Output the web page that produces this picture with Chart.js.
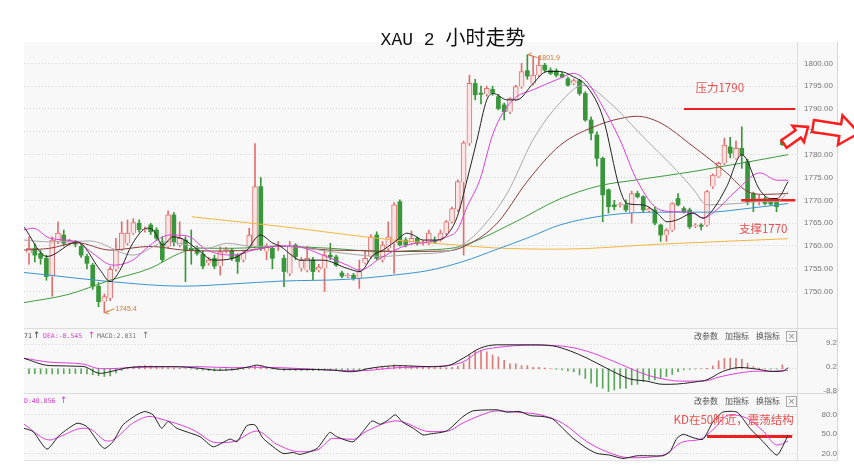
<!DOCTYPE html>
<html>
<head>
<meta charset="utf-8">
<script src="https://cdn.jsdelivr.net/npm/chart.js@4.4.0/dist/chart.umd.min.js"></script>
<style>
body{margin:0;background:#fff;width:854px;height:474px;overflow:hidden;position:relative;font-family:"Liberation Sans",sans-serif;}
#title{position:absolute;left:328px;top:26px;width:250px;text-align:center;font:20px/24px "Liberation Serif","Noto Sans CJK SC",serif;color:#111;white-space:pre;z-index:5;}
#title .lat{font:18px/24px "Liberation Mono",monospace;}
#frame{position:absolute;left:24px;top:42px;width:813px;height:418px;background:#f8f8f8;border-right:1px solid #d6d6d6;border-bottom:1px solid #e2e2e2;}
.vline{position:absolute;left:797px;top:42px;width:1px;height:419px;background:#dcdcdc;}
.hline{position:absolute;left:24px;width:813px;height:1px;background:#dcdcdc;}
canvas{position:absolute;left:0;}
.hd{position:absolute;font:6.5px/8px "DejaVu Sans Mono",monospace;white-space:nowrap;}
.ar{position:absolute;font:9px/9px "DejaVu Sans",sans-serif;white-space:nowrap;}
.tool{position:absolute;font:8px/10px "Noto Sans CJK SC",sans-serif;color:#555;white-space:nowrap;}
.xbox{position:absolute;width:9px;height:9px;border:1px solid #aaa;font:9px/9px "DejaVu Sans",sans-serif;color:#888;text-align:center;}
</style>
</head>
<body>
<div id="frame"></div>
<div class="vline"></div>
<div class="hline" style="top:328px"></div>
<div class="hline" style="top:393px"></div>
<canvas id="cMain" width="854" height="349" style="top:11px"></canvas>
<canvas id="cMacd" width="854" height="129" style="top:296px"></canvas>
<canvas id="cKd" width="854" height="132" style="top:361px"></canvas>
<div id="title"><span class="lat">XAU 2 </span>小时走势</div>

<span class="hd" style="left:24px;top:332px;color:#444">71</span>
<span class="ar" style="left:33px;top:331px;color:#444">↑</span>
<span class="hd" style="left:43px;top:332px;color:#d63bd6">DEA:-0.545</span>
<span class="ar" style="left:88px;top:331px;color:#d63bd6">↑</span>
<span class="hd" style="left:97px;top:332px;color:#777">MACD:2.031</span>
<span class="ar" style="left:142px;top:331px;color:#777">↑</span>
<span class="hd" style="left:24px;top:397px;color:#d63bd6">D:40.856</span>
<span class="ar" style="left:60px;top:396px;color:#d63bd6">↑</span>

<span class="tool" style="left:694px;top:331px">改参数</span>
<span class="tool" style="left:725px;top:331px">加指标</span>
<span class="tool" style="left:756px;top:331px">换指标</span>
<span class="xbox" style="left:786px;top:331px">×</span>
<span class="tool" style="left:694px;top:396px">改参数</span>
<span class="tool" style="left:725px;top:396px">加指标</span>
<span class="tool" style="left:756px;top:396px">换指标</span>
<span class="xbox" style="left:786px;top:396px">×</span>

<script>
'use strict';
// ============================================================
// DATA (index = 2h bar number)
// ============================================================
var opens  = [1758.4,1759.5,1758.4,1757.3,1753.3,1761.0,1762.4,1760.7,1760.6,1759.9,1757.7,1755.8,1751.2,1747.8,1748.6,1754.9,1759.3,1760.6,1762.8,1765.0,
              1763.5,1764.6,1763.5,1760.9,1759.9,1766.8,1760.2,1761.3,1759.5,1759.2,1758.2,1756.2,1757.3,1755.6,1758.8,1759.1,1758.0,1757.0,1759.9,1759.9,
              1773.0,1758.8,1759.5,1759.8,1757.3,1754.0,1760.2,1755.1,1754.7,1756.9,1754.8,1755.1,1758.0,1757.6,1754.1,1753.3,1753.6,1752.9,1756.3,1757.7,
              1762.4,1757.0,1759.5,1760.6,1769.7,1761.3,1760.6,1761.7,1760.6,1760.6,1761.1,1761.3,1762.8,1765.3,1768.0,1774.0,1782.5,1795.6,1793.5,1793.2,
              1794.3,1792.7,1790.9,1789.4,1792.0,1794.9,1798.4,1795.6,1797.4,1799.6,1798.5,1798.4,1797.6,1796.6,1795.6,1796.2,1793.4,1787.6,1784.3,1779.2,
              1772.3,1769.0,1768.9,1769.0,1767.2,1771.5,1770.8,1767.7,1767.9,1764.6,1762.4,1763.5,1770.4,1768.2,1767.9,1764.3,1764.6,1764.6,1773.0,1775.2,
              1778.1,1781.7,1779.2,1781.4,1778.5,1771.5,1769.7,1770.4,1769.7,1769.7,1782.9];
var highs  = [1762.0,1760.5,1759.0,1758.0,1762.0,1765.3,1763.5,1761.5,1761.2,1760.6,1758.2,1756.2,1752.0,1749.5,1755.5,1761.7,1765.3,1765.7,1766.0,1765.7,
              1764.2,1765.0,1764.0,1762.0,1767.7,1767.3,1765.3,1762.0,1763.5,1760.0,1759.0,1757.5,1758.0,1759.8,1759.7,1759.5,1758.3,1759.0,1763.9,1782.4,
              1775.0,1760.5,1760.0,1761.0,1758.0,1761.0,1760.5,1757.5,1759.9,1757.5,1756.0,1759.1,1760.6,1758.0,1754.5,1754.0,1754.0,1756.9,1759.1,1762.5,
              1763.1,1761.0,1765.3,1769.5,1770.1,1761.8,1763.3,1762.0,1761.2,1763.5,1762.0,1763.5,1765.6,1768.5,1774.5,1783.0,1797.4,1796.5,1795.0,1795.0,
              1795.0,1793.2,1791.3,1792.5,1795.2,1800.0,1801.9,1801.5,1801.6,1800.0,1799.0,1798.8,1798.0,1797.0,1796.6,1796.5,1793.8,1788.3,1785.0,1779.5,
              1772.5,1770.0,1769.5,1770.1,1772.0,1772.0,1771.0,1768.5,1768.6,1764.8,1763.8,1769.5,1771.5,1768.6,1768.3,1764.9,1764.9,1772.2,1775.8,1778.4,
              1783.6,1783.8,1783.0,1786.1,1779.0,1771.8,1771.2,1770.8,1770.0,1770.0,1783.6];
var lows   = [1756.0,1756.5,1756.0,1752.5,1749.0,1760.5,1760.0,1760.2,1759.8,1757.5,1755.0,1750.5,1746.7,1745.4,1748.0,1754.5,1759.0,1760.2,1762.5,1763.0,
              1763.0,1762.5,1761.2,1756.5,1759.5,1760.0,1759.8,1752.2,1756.0,1758.0,1755.0,1755.8,1755.0,1753.6,1758.5,1756.8,1754.0,1756.5,1759.5,1759.5,
              1759.0,1757.0,1755.0,1759.0,1751.1,1753.5,1757.0,1754.5,1754.3,1752.5,1754.3,1750.0,1757.0,1755.5,1753.0,1753.0,1752.5,1750.7,1756.0,1757.3,
              1757.0,1756.5,1759.0,1754.0,1760.0,1759.8,1760.3,1760.2,1760.2,1760.3,1760.5,1761.0,1762.5,1765.0,1767.5,1758.0,1782.0,1792.0,1791.1,1792.8,
              1793.0,1789.8,1787.6,1789.0,1791.8,1794.5,1796.5,1795.2,1797.0,1798.0,1797.5,1797.0,1796.8,1795.0,1795.3,1793.0,1787.3,1783.2,1777.5,1765.3,
              1767.2,1767.9,1768.5,1767.5,1765.0,1770.5,1767.5,1767.5,1764.6,1761.0,1761.0,1763.2,1768.8,1767.2,1763.8,1764.0,1763.5,1764.3,1772.6,1775.0,
              1777.8,1779.3,1779.0,1777.0,1769.0,1767.5,1769.0,1769.0,1768.8,1767.5,1782.0];
var closes = [1759.5,1758.0,1757.3,1753.3,1761.3,1762.8,1760.6,1760.9,1760.4,1758.0,1756.2,1751.2,1747.8,1748.9,1754.9,1759.3,1762.8,1762.8,1765.1,1763.6,
              1763.7,1763.1,1761.7,1757.0,1766.8,1760.9,1761.7,1759.1,1759.0,1758.4,1755.6,1756.9,1755.6,1758.7,1759.2,1757.3,1756.6,1758.5,1762.4,1773.0,
              1759.5,1759.9,1757.3,1760.2,1754.4,1759.9,1757.7,1756.9,1757.3,1754.4,1755.4,1758.0,1757.6,1755.8,1753.4,1753.6,1752.9,1754.4,1757.3,1762.0,
              1757.3,1760.2,1762.0,1769.0,1760.2,1760.2,1761.7,1760.6,1760.9,1762.8,1760.9,1762.8,1765.3,1768.2,1774.1,1782.6,1795.6,1793.1,1793.2,1794.5,
              1793.6,1790.1,1789.4,1792.3,1794.9,1798.2,1797.2,1797.4,1799.6,1798.5,1797.8,1797.4,1797.0,1795.2,1796.2,1793.4,1787.6,1784.7,1779.2,1771.2,
              1768.6,1768.6,1769.1,1767.9,1771.5,1770.8,1767.9,1768.2,1765.0,1762.4,1763.5,1769.3,1769.0,1767.5,1764.2,1764.6,1764.3,1771.9,1775.5,1778.1,
              1782.1,1780.3,1781.4,1779.9,1769.7,1769.7,1770.4,1769.3,1769.2,1768.6,1782.2];
var priceTicks = [1750, 1755, 1760, 1765, 1770, 1775, 1780, 1785, 1790, 1795, 1800];

// moving averages, [bar, price]
var ma5 = [[-0.9,1764.2],[3.1,1757.7],[8.3,1760.9],[12.3,1754.7],[14,1752.2],[15.7,1754.7],[17.9,1760.6],[20.4,1763.9],[21.4,1763.5],[23.1,1760.2],
           [24.8,1762],[26.6,1761.5],[29.5,1758.8],[31.8,1756.9],[35.2,1757.3],[37.6,1759.1],[39.9,1762.4],[42.1,1760.6],[43.3,1760],[45.6,1757.7],
           [46.8,1756.9],[50.7,1756.9],[54.9,1755.1],[57.1,1754.4],[59.4,1758],[61.1,1759.1],[63.5,1761.3],[65.2,1762.8],[66.3,1762.4],[68,1761.3],
           [70.4,1761.3],[72.1,1762.4],[73.9,1766.4],[75.6,1774.5],[77.3,1783.2],[79,1792],[80.1,1793.4],[82.5,1792],[84.2,1792],[87,1795.6],
           [89.4,1798.2],[91.6,1798.2],[93.9,1797.1],[96.3,1794.9],[99,1788.3],[102,1772.3],[103.2,1769.3],[105.9,1769],[108.4,1767.2],[110.1,1765.3],
           [111.8,1765.7],[114.6,1767.2],[116.3,1766.1],[118,1767.9],[120.4,1773],[123,1780],[126.1,1772.3],[127.9,1770.4],[129.1,1770.4],[131,1774.1]];
var ma10 = [[-0.9,1763.5],[0.7,1763.9],[3.6,1761.7],[8.3,1760.9],[11,1758.4],[14.5,1755.8],[17.9,1756.9],[20.9,1760.2],[24.3,1762.4],[27.3,1762.2],
            [30.7,1759.1],[35.2,1758],[38.7,1759.1],[43.3,1760],[45.6,1760],[50.7,1758],[54.9,1755.8],[57.1,1754.7],[60.6,1757.3],[65.2,1760.2],
            [69.2,1760.9],[72.1,1762],[73.9,1763.5],[75.6,1768.6],[77.8,1774.5],[80.1,1784.7],[83.5,1792],[87,1794.2],[91.6,1796.7],[93.9,1797.8],
            [96.3,1795.9],[99,1790.5],[102,1783.2],[104.9,1774.4],[108.9,1767.9],[111.8,1767.5],[114.6,1767.2],[116.3,1766.1],[118,1767.2],[122.2,1772.3],
            [126.1,1776],[129.1,1774.4],[131,1774.4]];
var ma20 = [[-0.9,1761.3],[3.6,1760.9],[10.5,1761.1],[17.9,1758],[23.8,1760.9],[30.7,1759.5],[34.2,1760.6],[38.7,1759.9],[43.3,1760],[51.9,1758.8],
            [57.1,1758],[60.6,1757.7],[66.3,1758.2],[72.1,1758.8],[74.4,1759.9],[77.8,1763.5],[82.5,1771.5],[87,1783.3],[91.6,1791.3],[95.6,1795.2],
            [100.2,1791.4],[105.9,1784],[111.8,1776.5],[114.6,1772.5],[117,1769],[122.2,1769.3],[126.1,1769.7],[129.1,1769.7],[131,1771.9]];
var ma30 = [[-0.9,1759.1],[3.6,1759.5],[8.3,1760.7],[14,1759.1],[20.9,1759.9],[26.6,1759.1],[31.8,1758.9],[38.1,1759.1],[43.3,1760],[51.9,1759.1],
            [57.1,1759],[63.5,1758.8],[72.1,1758.9],[75.6,1760.2],[80.8,1765],[85.9,1774],[91.6,1782],[98.5,1786.6],[103.2,1788.2],[104.9,1788.4],
            [108.9,1787],[114.6,1781.8],[120.4,1776],[123.9,1772],[127,1771.3],[131,1771.5]];
var ma60 = [[-0.9,1747.6],[6.5,1749.3],[14,1752.5],[20.9,1755.1],[26,1758.4],[29.5,1759.5],[35.2,1759.5],[43.3,1759.9],[51.9,1759.5],[60.6,1758.8],
            [68,1759.1],[74.4,1759.9],[83.5,1765],[91.6,1770.3],[98.5,1773.2],[105,1774.5],[114.6,1776.3],[131,1780]];
var ma120 = [[-0.9,1754.2],[3.6,1753.6],[14,1752.2],[26.6,1751.2],[35.2,1751.7],[43.3,1752.3],[54.9,1752.7],[62.8,1753.6],[69.2,1754.7],[74.9,1756.6],
             [80.8,1759.3],[86.5,1762],[91.6,1764.6],[100.2,1766.8],[108.9,1767.4],[117,1767.4],[123.9,1768.2],[131,1769.3]];
var ma250 = [[28.1,1766.4],[43.3,1764.3],[63,1761.3],[74,1760.2],[80,1759.6],[91.6,1759.3],[108.9,1760.4],[131,1761.6]];

// MACD panel
var macdHist = [-1.8,-1.8,-1.9,-1.9,-1.9,-1.9,-1.8,-1.8,-1.8,-1.8,-1.9,-2.2,-2.6,-2.9,-2.7,
                -1.5,-0.6,0.3,0.8,1.0,1.2,1.1,0.9,0.5,0.5,0.4,0.2,0.1,-0.1,-0.3,-0.5,-0.7,-0.8,-0.7,-0.6,-0.5,-0.4,-0.2,0.3,1.0,0.8,
                0.3,-0.1,-0.3,-0.6,-0.5,-0.6,-0.7,-0.6,-0.7,-0.6,-0.5,-0.5,-0.4,-0.5,-0.6,-0.7,-0.6,-0.3,
                0.2,0.4,0.6,0.8,1.5,1.2,1.2,1.0,0.9,0.8,0.6,0.5,0.5,0.4,
                0.6,1.0,2.2,5.4,6.9,6.9,6.4,5.2,4.5,3.2,1.9,1.9,1.2,1.2,0.6,0.6,0.3,0.1,
                -0.2,-0.4,-0.8,-1.1,-2.3,-3.6,-5.4,-6.7,-7.3,-8.5,-7.9,-7.3,-7.3,-6.0,-5.8,-4.8,-4.2,-4.2,-3.6,-2.9,-2.1,-1.1,-0.4,-0.2,-0.1,0.05,
                0.2,1.1,3.0,3.9,4.0,3.9,3.6,2.1,0.8,0.3,0.1,-0.1,-0.1,1.5];
var dif = [[-0.9,3.95],[3.6,1.2],[9.3,0.9],[12.3,-1.7],[14,-1.1],[16.9,0.4],[19.7,0.8],[22.6,0.8],[24.8,0.8],[29.5,0.2],[32.4,-0.5],[35.2,-0.3],
           [38.1,0.8],[39.3,1.4],[41.1,0.6],[43.8,-0.2],[46.8,-0.2],[52.5,-0.5],[55.4,-1.1],[57.1,-0.7],[58.3,0],[64,1.2],[69.2,0.8],[72.1,1.1],
           [74.9,3.95],[77.8,7.7],[80.8,9],[86.5,9],[90.4,8.6],[93.4,6.7],[96.3,4],[99.7,0.2],[102,-2.3],[103.7,-3.8],[106.6,-4.6],[109.4,-5.8],
           [110.6,-5.8],[115.3,-4.8],[117,-4.1],[119.7,-1],[122.7,0.5],[125.6,-0.1],[128.4,-1],[130.1,-0.8],[131,0.4]];
var dea = [[-0.9,4],[3.6,2.5],[9.3,1.8],[12.3,0.05],[14,0.05],[16.9,0.4],[23.8,0.8],[29.5,0.8],[35.2,0.4],[38.7,0.6],[43.8,0.4],[52.5,-0.5],
           [57.1,-0.7],[64,0.5],[69.2,0.8],[74.9,2.6],[77.8,6.7],[80.8,8],[86.5,8.9],[92.1,8.5],[96.3,6.6],[100.8,2.9],[103.7,0.2],[106.6,-2.3],
           [109.4,-3.8],[112.3,-4.6],[116.3,-4.6],[119.2,-3],[122.7,-1.5],[125.6,-0.9],[128.4,-0.9],[131,-0.5]];
var macdTicks = [9.2, 0.2, -8.8];

// KD panel
var kdK = [[-0.9,59.3],[0.7,54.2],[3.1,27.2],[5.3,48.9],[8.3,67],[10,61.8],[12.3,33.4],[13.1,28.2],[14.5,38.5],[16.2,64.4],[18.6,80],[20,85],
           [21.4,80],[22.9,59.3],[24,69.7],[25.5,59.3],[29.5,46.3],[31.8,30.8],[34.7,42.7],[35.9,38.5],[37.6,63.3],[39,64.4],[40.4,43.8],[43.8,20.5],
           [45.6,22],[46.8,19],[49.7,28.2],[51.9,53],[53.1,46.3],[55.9,38.5],[57.6,54],[59.2,70.6],[60.6,65.4],[62,72.1],[63.2,80],[64.5,68.6],
           [66.3,59.3],[68,49],[69.2,50.5],[72.1,55.2],[74.9,77.3],[76.6,86],[80.8,87.6],[82.5,84],[84.7,85],[86.5,78.8],[88.7,77.3],[90.4,73.5],
           [92.1,59.3],[93.9,43.8],[96.3,28.2],[98,20.5],[100.2,18],[102.5,12.8],[104.9,16.9],[107.2,16.9],[109.4,16.9],[110.6,23.1],[111.8,43.8],
           [112.9,50],[114.6,44.8],[116.3,42.2],[118,68.6],[119.7,84],[122.2,84],[124.4,59.3],[126.7,38.5],[129.1,18],[131,49]];
var kdD = [[-0.9,65.5],[3.6,41.2],[5.3,46.3],[9.3,59.3],[10.5,58.3],[13.5,39.6],[14.5,41.2],[17.9,67],[20.9,77.5],[22.6,73.8],[24.3,69.7],
           [28.3,56.8],[32.4,37.1],[35.2,38.5],[39.3,55],[42.8,34.5],[46.8,23.1],[49.7,25.7],[52.5,43.8],[55.9,42.2],[58.3,55],[63.5,70.6],[69.2,54],
           [72.1,54.7],[74.9,67.5],[77.8,78.8],[80.8,86],[84.2,84],[88.2,80],[92.1,67],[96.3,38.5],[99.7,23.1],[103.7,13.9],[109.4,17.9],[112.9,38.5],
           [115.8,42.2],[118,56.8],[120.9,80],[123.9,74.6],[126.7,54.7],[129.1,33.4],[131,39.6]];
var kdTicks = [80, 50, 20];

// hand-drawn notes on the picture
var resistLine = [[113, 1790], [132.2, 1790]];
var supportLine = [[122.9, 1770], [132.2, 1770]];
var kdLine = [[117, 46.5], [131.7, 46.5]];
var priceNotes = [['压力1790', 119.2, 1794.7], ['支撑1770', 126.7, 1763.7]];
var kdNotes = [['KD在50附近，震荡结构', 121.6, 72]];

// ============================================================
// LAYOUT / STYLE
// ============================================================
var X_MIN = -0.863, X_MAX = 132.53, PAD = 32, MAIN_TOP = 11;
var RED = '#e07070', RED_FILL = '#fbe5e5', GRN = '#3a963a', NOTE = '#e8504f', MARK = '#d2782e';

function pts(a) { return a.map(function(p) { return {x: p[0], y: p[1]}; }); }

function line(data, color, w, extra) {
  var d = {type: 'line', data: pts(data), borderColor: color, borderWidth: w || 1, pointRadius: 0,
           cubicInterpolationMode: 'monotone', fill: false, order: 0};
  if (extra) for (var k in extra) d[k] = extra[k];
  return d;
}

function yAxis(min, max, ticks, fmt, tickOpts) {
  return {
    type: 'linear', position: 'right', min: min, max: max,
    afterFit: function(s) { s.width = 40; },
    afterBuildTicks: function(s) { s.ticks = ticks.map(function(v) { return {value: v}; }); },
    grid: {drawTicks: false, color: function(c) { return (c.tick && c.tick.value === -8.8) ? 'rgba(0,0,0,0)' : '#d6d6d6'; }},
    border: {display: false, dash: [1, 2]},
    ticks: Object.assign({color: '#777', font: {family: 'Liberation Sans', size: 8},
                          callback: function(v) { return v.toFixed(fmt); }}, tickOpts)
  };
}

function baseOpts(y) {
  return {
    responsive: false, animation: false, events: [],
    layout: {padding: {left: 24, right: 17, top: PAD, bottom: PAD}},
    plugins: {legend: {display: false}, tooltip: {enabled: false}},
    scales: {x: {type: 'linear', min: X_MIN, max: X_MAX, display: false, offset: false}, y: y}
  };
}

function drawArrow(ctx, x0, y0, x1, y1, sw, hw, hl) {
  var ang = Math.atan2(y1 - y0, x1 - x0), len = Math.hypot(x1 - x0, y1 - y0);
  var p = [[0, -sw], [len - hl, -sw], [len - hl, -hw], [len, 0], [len - hl, hw], [len - hl, sw], [0, sw]];
  ctx.save(); ctx.translate(x0, y0); ctx.rotate(ang);
  ctx.beginPath();
  p.forEach(function(q, k) { if (k) ctx.lineTo(q[0], q[1]); else ctx.moveTo(q[0], q[1]); });
  ctx.closePath();
  ctx.fillStyle = '#fff'; ctx.fill();
  ctx.lineWidth = 2.5; ctx.strokeStyle = '#ff1e1e'; ctx.lineJoin = 'miter'; ctx.stroke();
  ctx.restore();
}

function noteText(chart, list) {
  var ctx = chart.ctx, xs = chart.scales.x, ys = chart.scales.y;
  ctx.save();
  ctx.font = '11.5px "Noto Sans CJK SC", sans-serif';
  ctx.fillStyle = NOTE; ctx.textAlign = 'center'; ctx.textBaseline = 'middle';
  list.forEach(function(n) { ctx.fillText(n[0], xs.getPixelForValue(n[1]), ys.getPixelForValue(n[2])); });
  ctx.restore();
}

// ============================================================
// MAIN PANEL: candles + averages
// ============================================================
var upBody = [], dnBody = [], upWick = [], dnWick = [];
for (var i = 0; i < closes.length; i++) {
  var up = closes[i] >= opens[i];
  (up ? upBody : dnBody).push({x: i, y: [opens[i], closes[i]]});
  (up ? upWick : dnWick).push({x: i, y: [lows[i], highs[i]]});
}

var mainPlugin = {
  id: 'mainNotes',
  afterDraw: function(chart) {
    var ctx = chart.ctx, xs = chart.scales.x, ys = chart.scales.y, top = MAIN_TOP;
    noteText(chart, priceNotes);
    // extreme price marks
    ctx.save();
    ctx.font = '7px "Liberation Sans", sans-serif'; ctx.fillStyle = MARK; ctx.strokeStyle = MARK;
    ctx.lineWidth = 1; ctx.textBaseline = 'middle'; ctx.textAlign = 'left';
    [[86, highs[86], 3], [13, lows[13], -4]].forEach(function(m) {
      var px = xs.getPixelForValue(m[0]) + 1, py = ys.getPixelForValue(m[1]);
      ctx.beginPath(); ctx.moveTo(px, py); ctx.lineTo(px + 9, py + m[2]); ctx.stroke();
      ctx.beginPath(); ctx.moveTo(px + 3, py - 2); ctx.lineTo(px, py); ctx.lineTo(px + 3.5, py + 1.5); ctx.stroke();
      ctx.fillText(m[1].toFixed(1), px + 10, py + m[2]);
    });
    ctx.restore();
    drawArrow(ctx, 784, 144 - top, 808, 127 - top, 4.5, 10, 12);
    drawArrow(ctx, 813, 126 - top, 859, 133 - top, 6, 15, 19);
  }
};

new Chart(document.getElementById('cMain'), {
  type: 'bar',
  data: {datasets: [
    line(ma5, '#222222'), line(ma10, '#dd3fdd'), line(ma20, '#a8a8a8'), line(ma30, '#8e3b3b'),
    line(ma60, '#3f9a3f'), line(ma120, '#3a94d2'), line(ma250, '#f3b63e'),
    line(resistLine, '#f01e1e', 2.2, {cubicInterpolationMode: 'default'}),
    line(supportLine, '#f01e1e', 2.6, {cubicInterpolationMode: 'default'}),
    {type: 'bar', data: upBody, backgroundColor: RED_FILL, borderColor: RED, borderWidth: 1, barThickness: 5, grouped: false, minBarLength: 1, order: 1},
    {type: 'bar', data: dnBody, backgroundColor: GRN, borderColor: GRN, borderWidth: 0, barThickness: 4, grouped: false, minBarLength: 1, order: 1},
    {type: 'bar', data: upWick, backgroundColor: RED, barThickness: 1, grouped: false, order: 2},
    {type: 'bar', data: dnWick, backgroundColor: GRN, barThickness: 1, grouped: false, order: 2}
  ]},
  options: baseOpts(yAxis(1742.04, 1804.45, priceTicks, 2, {padding: 7, crossAlign: 'near'})),
  plugins: [mainPlugin]
});

// ============================================================
// MACD PANEL
// ============================================================
new Chart(document.getElementById('cMacd'), {
  type: 'bar',
  data: {datasets: [
    line(dif, '#222222'),
    line(dea, '#dd3fdd'),
    {type: 'bar', data: macdHist.map(function(v, k) { return {x: k, y: v}; }), barThickness: 1, grouped: false, order: 1,
     backgroundColor: function(c) { return c.raw && c.raw.y >= 0 ? '#e07a7a' : '#5aa65a'; }}
  ]},
  options: baseOpts(yAxis(-9.06, 15.31, macdTicks, 1, {padding: 21, crossAlign: 'far', labelOffset: -1.5}))
});

// ============================================================
// KD PANEL
// ============================================================
new Chart(document.getElementById('cKd'), {
  type: 'line',
  data: {datasets: [
    line(kdK, '#222222', 1, {cubicInterpolationMode: 'default', tension: 0.2}),
    line(kdD, '#dd3fdd'),
    line(kdLine, '#f01e1e', 3, {cubicInterpolationMode: 'default'})
  ]},
  options: baseOpts(yAxis(8.9, 113.5, kdTicks, 1, {padding: 20, crossAlign: 'far'})),
  plugins: [{id: 'kdNotes', afterDraw: function(chart) { noteText(chart, kdNotes); }}]
});
</script>
</body>
</html>
